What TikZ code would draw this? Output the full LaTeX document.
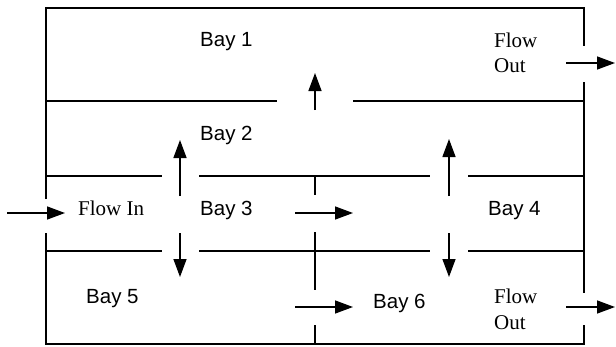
\documentclass[tikz,border=0pt]{standalone}
\usepackage{fontspec}
\setmainfont{Liberation Serif}
\newfontfamily\arialfont{Liberation Sans}
\usetikzlibrary{arrows.meta}
\begin{document}
\begin{tikzpicture}[x=1pt,y=-1pt,
  wall/.style={line width=1.7pt},
  flowarrow/.style={line width=1.4pt,-{Triangle[length=18pt,width=13pt]}},
  baylabel/.style={anchor=base west,inner sep=0pt,font=\arialfont\fontsize{20.5}{24}\selectfont},
  flowlabel/.style={anchor=base west,inner sep=0pt,font=\fontsize{21}{25}\selectfont}]
\useasboundingbox (0,0) rectangle (616,346);
% outer walls
\draw[wall] (46,199) -- (46,8) -- (584,8) -- (584,46);
\draw[wall] (584,82) -- (584,293);
\draw[wall] (584,325) -- (584,344) -- (46,344) -- (46,233);
% internal walls
\draw[wall] (46,101) -- (277,101);
\draw[wall] (353,101) -- (584,101);
\draw[wall] (46,176) -- (162,176);
\draw[wall] (199,176) -- (430,176);
\draw[wall] (468,176) -- (584,176);
\draw[wall] (46,251) -- (162,251);
\draw[wall] (199,251) -- (430,251);
\draw[wall] (468,251) -- (584,251);
\draw[wall] (315,176) -- (315,195);
\draw[wall] (315,232) -- (315,290);
\draw[wall] (315,325) -- (315,344);
% labels
\node[baylabel] (b1) at (200,46) {Bay 1};
\node[baylabel] (b2) at (200,140) {Bay 2};
\node[baylabel] (b3) at (200,215) {Bay 3};
\node[baylabel] (b4) at (488,215) {Bay 4};
\node[baylabel] (b5) at (86,303) {Bay 5};
\node[baylabel] (b6) at (373,308) {Bay 6};
\node[flowlabel] (fin) at (78,215) {Flow In};
\node[flowlabel] (fo1a) at (494,47) {Flow};
\node[flowlabel] (fo1b) at (494,72) {Out};
\node[flowlabel] (fo2a) at (494,303) {Flow};
\node[flowlabel] (fo2b) at (494,329) {Out};
% arrow end points
\coordinate (inS) at (7,213);   \coordinate (inE) at (65,213);
\coordinate (u1S) at (180,196); \coordinate (u1E) at (180,140);
\coordinate (d1S) at (180,233); \coordinate (d1E) at (180,277);
\coordinate (u2S) at (449,196); \coordinate (u2E) at (449,139);
\coordinate (d2S) at (449,233); \coordinate (d2E) at (449,277);
\coordinate (u3S) at (315,110); \coordinate (u3E) at (315,73);
\coordinate (r1S) at (295,213); \coordinate (r1E) at (353,213);
\coordinate (r2S) at (295,307); \coordinate (r2E) at (353,307);
\coordinate (o1S) at (566,63);  \coordinate (o1E) at (615,63);
\coordinate (o2S) at (566,307); \coordinate (o2E) at (615,307);
\draw[flowarrow] (inS) -- (inE);
\draw[flowarrow] (u1S) -- (u1E);
\draw[flowarrow] (d1S) -- (d1E);
\draw[flowarrow] (u2S) -- (u2E);
\draw[flowarrow] (d2S) -- (d2E);
\draw[flowarrow] (u3S) -- (u3E);
\draw[flowarrow] (r1S) -- (r1E);
\draw[flowarrow] (r2S) -- (r2E);
\draw[flowarrow] (o1S) -- (o1E);
\draw[flowarrow] (o2S) -- (o2E);
\end{tikzpicture}
\end{document}
